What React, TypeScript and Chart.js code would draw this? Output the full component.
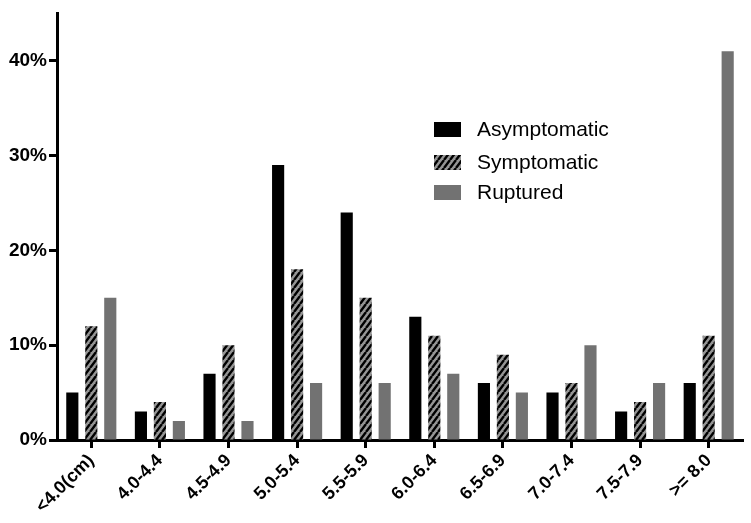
import React, { useEffect, useRef } from "react";
import { Chart, registerables } from "chart.js";

Chart.register(...registerables);

const categories = ["<4.0(cm)", "4.0-4.4", "4.5-4.9", "5.0-5.4", "5.5-5.9", "6.0-6.4", "6.5-6.9", "7.0-7.4", "7.5-7.9", ">= 8.0"];
const asymptomatic = [5, 3, 7, 29, 24, 13, 6, 5, 3, 6];
const symptomatic = [12, 4, 10, 18, 15, 11, 9, 6, 4, 11];
const ruptured = [15, 2, 2, 6, 6, 7, 5, 10, 6, 41];
const seriesNames = ["Asymptomatic", "Symptomatic", "Ruptured"];
const yTicks = [0, 10, 20, 30, 40];

function makeHatch(): CanvasPattern | string {
  const w = 6;
  const h = 8;
  const c = document.createElement("canvas");
  c.width = w;
  c.height = h;
  const ctx = c.getContext("2d");
  if (!ctx) return "#909090";
  ctx.fillStyle = "#959595";
  ctx.fillRect(0, 0, w, h);
  ctx.strokeStyle = "#000";
  ctx.lineWidth = 2.4;
  ctx.beginPath();
  for (let k = -w; k <= w; k += w) {
    ctx.moveTo(k, h);
    ctx.lineTo(k + w, 0);
  }
  ctx.stroke();
  return ctx.createPattern(c, "repeat") as CanvasPattern;
}

export default function App() {
  const ref = useRef<HTMLCanvasElement | null>(null);
  useEffect(() => {
    document.body.style.margin = "0";
    const canvas = ref.current;
    if (!canvas) return;
    const hatch = makeHatch();
    const colors: any[] = ["#000000", hatch, "#727272"];

    const legendPlugin = {
      id: "customLegend",
      afterDraw(chart: any) {
        const ctx = chart.ctx;
        ctx.save();
        const x = 434;
        const ys = [129, 162, 192];
        ctx.font = "21px 'Liberation Sans', Arial, sans-serif";
        ctx.textBaseline = "middle";
        ctx.textAlign = "left";
        seriesNames.forEach((name, i) => {
          ctx.fillStyle = colors[i];
          ctx.fillRect(x, ys[i] - 7, 27, 15);
          ctx.fillStyle = "#000";
          ctx.fillText(name, x + 43, ys[i] + 1);
        });
        ctx.restore();
      },
    };

    const chart = new Chart(canvas, {
      type: "bar",
      data: {
        labels: categories,
        datasets: [
          { label: seriesNames[0], data: asymptomatic, backgroundColor: colors[0] },
          { label: seriesNames[1], data: symptomatic, backgroundColor: colors[1] },
          { label: seriesNames[2], data: ruptured, backgroundColor: colors[2] },
        ],
      },
      options: {
        responsive: false,
        animation: false,
        layout: { padding: { top: 8, right: 8, left: 0, bottom: 0 } },
        datasets: { bar: { categoryPercentage: 0.83, barPercentage: 0.64 } } as any,
        plugins: { legend: { display: false }, tooltip: { enabled: false } },
        scales: {
          x: {
            grid: {
              display: true,
              drawOnChartArea: false,
              drawTicks: true,
              offset: false,
              tickLength: 8,
              tickWidth: 3,
              tickColor: "#000",
              color: "#000",
            },
            border: { display: true, width: 3, color: "#000" },
            ticks: {
              minRotation: 45,
              maxRotation: 45,
              color: "#000",
              padding: 2,
              font: { family: "'Liberation Sans', Arial, sans-serif", size: 18, weight: "bold" },
            },
            afterFit(scale: any) {
              scale.height = 83;
            },
          },
          y: {
            min: 0,
            max: 45,
            grid: {
              display: true,
              drawOnChartArea: false,
              drawTicks: true,
              tickLength: 8,
              tickWidth: 3,
              tickColor: "#000",
              color: "#000",
            },
            border: { display: true, width: 3, color: "#000" },
            ticks: {
              stepSize: 10,
              color: "#000",
              padding: 2,
              font: { family: "'Liberation Sans', Arial, sans-serif", size: 19, weight: "bold" },
              callback: (v: any) => v + "%",
            },
            afterBuildTicks(scale: any) {
              scale.ticks = yTicks.map((v) => ({ value: v }));
            },
            afterFit(scale: any) {
              scale.width = 57;
            },
          },
        },
      },
      plugins: [legendPlugin],
    });
    return () => chart.destroy();
  }, []);
  return <canvas ref={ref} width={751} height={523} style={{ display: "block" }} />;
}
